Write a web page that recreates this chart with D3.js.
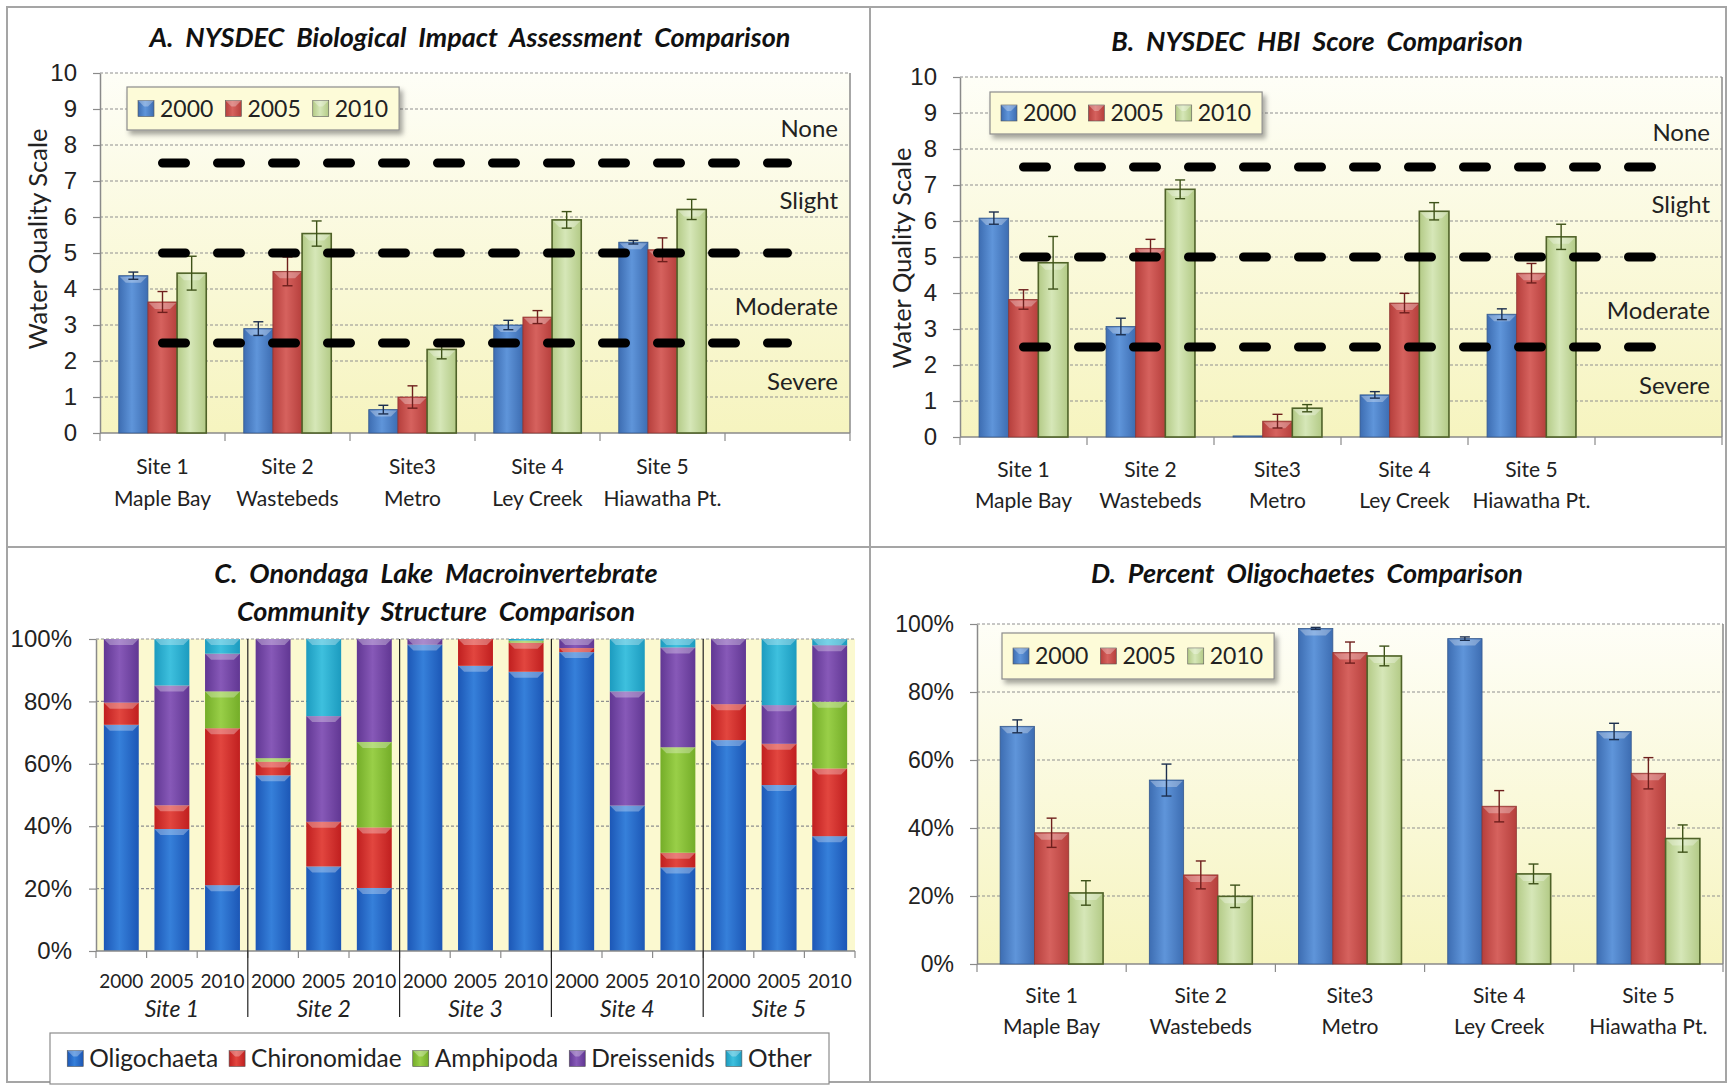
<!DOCTYPE html>
<html>
<head>
<meta charset="utf-8">
<script src="https://cdn.jsdelivr.net/npm/d3@7"></script>
<style>
  body { margin: 0; background: #fff; }
  svg { display: block; }
</style>
</head>
<body>
<script>
// ---- data ----
const sites = ["Site 1", "Site 2", "Site3", "Site 4", "Site 5"];
const siteNames = ["Maple Bay", "Wastebeds", "Metro", "Ley Creek", "Hiawatha Pt."];
const years = ["2000", "2005", "2010"];
const zones = ["None", "Slight", "Moderate", "Severe"];
const thresholds = [7.5, 5, 2.5];
const scaleTicks = [0, 1, 2, 3, 4, 5, 6, 7, 8, 9, 10];
const pctTicks = [0, 20, 40, 60, 80, 100];

// A. Biological Impact Assessment
const bia2000 = [4.37, 2.90, 0.65, 3.00, 5.30];
const bia2005 = [3.64, 4.49, 1.00, 3.22, 5.09];
const bia2010 = [4.44, 5.54, 2.32, 5.92, 6.21];
const biaErr2000 = [0.10, 0.19, 0.12, 0.13, 0.05];
const biaErr2005 = [0.29, 0.40, 0.31, 0.18, 0.33];
const biaErr2010 = [0.47, 0.35, 0.26, 0.23, 0.28];

// B. HBI score
const hbi2000 = [6.08, 3.07, 0.03, 1.17, 3.41];
const hbi2005 = [3.82, 5.24, 0.44, 3.72, 4.55];
const hbi2010 = [4.84, 6.88, 0.80, 6.27, 5.56];
const hbiErr2000 = [0.17, 0.23, 0.00, 0.09, 0.15];
const hbiErr2005 = [0.27, 0.25, 0.19, 0.27, 0.27];
const hbiErr2010 = [0.73, 0.26, 0.10, 0.24, 0.35];

// C. community structure (% of each bar, bars = site x year)
const siteGroups = ["Site 1", "Site 2", "Site 3", "Site 4", "Site 5"];
const taxa = ["Oligochaeta", "Chironomidae", "Amphipoda", "Dreissenids", "Other"];
const oligochaeta  = [72.5, 39.1, 21.1, 56.3, 27.1, 20.2, 98.2, 91.4, 89.5, 95.8, 46.6, 26.8, 67.6, 53.2, 36.8];
const chironomidae = [ 7.1,  7.6, 50.3,  4.4, 14.3, 19.4,  0.0,  8.6,  9.3,  1.3,  0.0,  4.7, 11.5, 13.2, 21.7];
const amphipoda    = [ 0.0,  0.0, 11.8,  1.1,  0.0, 27.4,  0.0,  0.0,  0.7,  0.0,  0.0, 33.8,  0.0,  0.0, 21.4];
const dreissenids  = [20.4, 38.4, 12.1, 38.2, 33.9, 33.0,  1.8,  0.0,  0.0,  2.9, 36.6, 32.0, 20.9, 12.4, 18.1];
const other        = [ 0.0, 14.9,  4.7,  0.0, 24.7,  0.0,  0.0,  0.0,  0.5,  0.0, 16.8,  2.7,  0.0, 21.2,  2.0];

// D. percent oligochaetes
const oli2000 = [69.9, 54.1, 98.7, 95.7, 68.4];
const oli2005 = [38.6, 26.2, 91.6, 46.4, 56.1];
const oli2010 = [20.9, 19.9, 90.6, 26.5, 36.9];
const oliErr2000 = [1.9, 4.7, 0.3, 0.5, 2.4];
const oliErr2005 = [4.3, 4.1, 3.1, 4.6, 4.6];
const oliErr2010 = [3.6, 3.3, 2.9, 2.9, 4.0];

// ---- drawing ----
const FONT = "Lato, 'Noto Sans', sans-serif";
const INK = "#222";
const AXIS = "#8a8a8a";

const svg = d3.select("body").append("svg")
    .attr("width", 1729)
    .attr("height", 1086)
    .style("font-family", FONT);

svg.append("rect").attr("width", 1729).attr("height", 1086).attr("fill", "#fff");

const defs = svg.append("defs");

function hGrad(id, edge, mid) {
  const gr = defs.append("linearGradient").attr("id", id)
      .attr("x1", "0%").attr("x2", "100%").attr("y1", "0%").attr("y2", "0%");
  gr.append("stop").attr("offset", "0%").attr("stop-color", edge);
  gr.append("stop").attr("offset", "45%").attr("stop-color", mid);
  gr.append("stop").attr("offset", "100%").attr("stop-color", edge);
}

// series colours for the grouped charts
const seriesFill = ["gBlue", "gRed", "gGreen"];
const seriesStroke = ["#35598e", "#8e3532", "#4f6228"];
const errColor = ["#1c2f4f", "#6e1f1d", "#3e5219"];
hGrad("gBlue", "#3d6db2", "#5f95da");
hGrad("gRed", "#b63f3c", "#d6625e");
hGrad("gGreen", "#b3ca86", "#d6e7b8");

// taxa colours
const taxaFill = ["tOli", "tChi", "tAmp", "tDre", "tOth"];
hGrad("tOli", "#1c57b6", "#3680da");
hGrad("tChi", "#c01f1f", "#e2463f");
hGrad("tAmp", "#74ad28", "#99cf48");
hGrad("tDre", "#613793", "#8759b8");
hGrad("tOth", "#1c9bbf", "#3ec0de");

const bg = defs.append("linearGradient").attr("id", "plotBg")
    .attr("x1", "0%").attr("x2", "0%").attr("y1", "0%").attr("y2", "100%");
bg.append("stop").attr("offset", "0%").attr("stop-color", "#fefef7");
bg.append("stop").attr("offset", "100%").attr("stop-color", "#f6f4bf");

const shadow = defs.append("filter").attr("id", "shadow")
    .attr("x", "-10%").attr("y", "-30%").attr("width", "130%").attr("height", "180%");
shadow.append("feDropShadow").attr("dx", 3).attr("dy", 4).attr("stdDeviation", 2.5)
    .attr("flood-color", "#000").attr("flood-opacity", 0.35);

// bevel highlight on top of a bar segment
function bevel(sel, x, y, w, hgt) {
  const d = Math.min(6, hgt);
  if (d < 2) return;
  sel.append("path")
      .attr("d", `M${x},${y}L${x + w},${y}L${x + w - d},${y + d}L${x + d},${y + d}Z`)
      .attr("fill", "#fff").attr("fill-opacity", 0.3);
}

function legend(parent, o) {
  const g = parent.append("g").attr("transform", `translate(${o.x},${o.y})`);
  const box = g.append("rect").attr("height", o.h)
      .attr("fill", o.fill).attr("stroke", "#8c8c8c").attr("stroke-width", 1.2);
  if (o.shadow) box.attr("filter", "url(#shadow)");
  const items = g.append("g");
  let cx = 0;
  o.names.forEach((name, i) => {
    items.append("rect")
        .attr("x", cx).attr("y", o.h / 2 - 8).attr("width", 16).attr("height", 16)
        .attr("fill", `url(#${o.fills[i]})`).attr("stroke", "#555").attr("stroke-width", 0.6);
    bevel(items, cx, o.h / 2 - 8, 16, 16);
    const t = items.append("text")
        .attr("x", cx + 16 + o.gap).attr("y", o.h / 2).attr("dy", "0.35em")
        .attr("font-size", o.fs).attr("fill", INK).text(name);
    cx += 16 + o.gap + t.node().getComputedTextLength() + o.sep;
  });
  const content = cx - o.sep;
  const width = o.w || content + 2 * o.pad;
  box.attr("width", width);
  items.attr("transform", `translate(${(width - content) / 2},0)`);
}

function groupedChart(o) {
  const g = svg.append("g").attr("transform", `translate(${o.left},${o.top})`);
  const w = o.width, h = o.height;

  const slots = o.blankSlot ? sites.concat([""]) : sites;
  const x0 = d3.scaleBand().domain(slots).range([0, w])
      .paddingInner(o.pad).paddingOuter(o.pad / 2);
  const x1 = d3.scaleBand().domain(years).range([0, x0.bandwidth()]);
  const y = d3.scaleLinear().domain(o.domain).range([h, 0]);

  g.append("rect").attr("width", w).attr("height", h).attr("fill", "url(#plotBg)");

  // dashed gridlines
  g.append("g").selectAll("line").data(o.ticks.slice(1)).join("line")
      .attr("x1", 0).attr("x2", w)
      .attr("y1", d => y(d)).attr("y2", d => y(d))
      .attr("stroke", "#8f8f8f").attr("stroke-width", 1.2).attr("stroke-dasharray", "3,2");

  // y axis
  const ya = g.append("g")
      .attr("font-family", FONT)
      .call(d3.axisLeft(y).tickValues(o.ticks).tickFormat(o.fmt)
          .tickSize(7).tickSizeOuter(0).tickPadding(16));
  ya.select(".domain").attr("stroke", AXIS).attr("stroke-width", 1.5);
  ya.selectAll(".tick line").attr("stroke", AXIS).attr("stroke-width", 1.2);
  ya.selectAll(".tick text").attr("font-size", o.tickFs).attr("fill", INK);

  // right edge and x axis with slot ticks
  g.append("line").attr("x1", w).attr("x2", w).attr("y1", 0).attr("y2", h)
      .attr("stroke", AXIS).attr("stroke-width", 1.5);
  g.append("line").attr("x1", 0).attr("x2", w).attr("y1", h).attr("y2", h)
      .attr("stroke", AXIS).attr("stroke-width", 1.5);
  g.append("g").selectAll("line").data(d3.range(slots.length + 1)).join("line")
      .attr("x1", i => i * x0.step()).attr("x2", i => i * x0.step())
      .attr("y1", h).attr("y2", h + 8)
      .attr("stroke", AXIS).attr("stroke-width", 1.2);

  // bars
  const rows = sites.map((s, i) => ({
    site: s,
    cells: years.map((yr, j) => ({ j, v: o.series[j][i], e: o.errors[j][i] }))
  }));

  const groups = g.append("g").selectAll("g").data(rows).join("g")
      .attr("transform", d => `translate(${x0(d.site)},0)`);

  groups.each(function (d) {
    const gg = d3.select(this);
    d.cells.forEach(c => {
      const bx = x1(years[c.j]), bw = x1.bandwidth();
      const by = y(c.v), bh = h - y(c.v);
      gg.append("rect")
          .attr("x", bx).attr("y", by).attr("width", bw).attr("height", bh)
          .attr("fill", `url(#${seriesFill[c.j]})`)
          .attr("stroke", seriesStroke[c.j]).attr("stroke-width", c.j === 2 ? 1.6 : 0.8);
      bevel(gg, bx + 1, by + 1, bw - 2, bh - 2);
    });
    d.cells.forEach(c => {
      if (c.e <= 0) return;
      const cx = x1(years[c.j]) + x1.bandwidth() / 2;
      const eb = gg.append("g").attr("stroke", errColor[c.j]).attr("stroke-width", 1.4);
      eb.append("line").attr("x1", cx).attr("x2", cx).attr("y1", y(c.v - c.e)).attr("y2", y(c.v + c.e));
      eb.append("line").attr("x1", cx - 5).attr("x2", cx + 5).attr("y1", y(c.v + c.e)).attr("y2", y(c.v + c.e));
      eb.append("line").attr("x1", cx - 5).attr("x2", cx + 5).attr("y1", y(c.v - c.e)).attr("y2", y(c.v - c.e));
    });
  });

  // category labels
  const lab = g.append("g").attr("font-size", o.catFs).attr("fill", INK).attr("text-anchor", "middle");
  sites.forEach((s, i) => {
    const cx = x0(s) + x0.bandwidth() / 2;
    lab.append("text").attr("x", cx).attr("y", h + o.lab1).text(s);
    lab.append("text").attr("x", cx).attr("y", h + o.lab2).text(siteNames[i]);
  });

  // impact thresholds and zone names
  if (o.zones) {
    const xa = x0(slots[0]) + x0.bandwidth() / 2;
    const xb = x0(slots[slots.length - 1]) + x0.bandwidth() / 2;
    g.append("g").selectAll("line").data(thresholds).join("line")
        .attr("x1", xa).attr("x2", xb)
        .attr("y1", d => y(d)).attr("y2", d => y(d))
        .attr("stroke", "#000").attr("stroke-width", 9)
        .attr("stroke-linecap", "round").attr("stroke-dasharray", "23,32");
    const zoneAt = [8.45, 6.45, 3.5, 1.42];
    g.append("g").attr("font-size", 24).attr("fill", INK).attr("text-anchor", "end")
      .selectAll("text").data(zones).join("text")
        .attr("x", w - 12).attr("y", (d, i) => y(zoneAt[i])).attr("dy", "0.35em")
        .text(d => d);
  }

  // y axis title
  if (o.yTitle) {
    svg.append("text")
        .attr("transform", `translate(${o.yTitle.x},${o.yTitle.y}) rotate(-90)`)
        .attr("text-anchor", "middle").attr("dy", "0.35em")
        .attr("font-size", 25.5).attr("fill", INK)
        .text("Water Quality Scale");
  }

  legend(g, Object.assign({ names: years, fills: seriesFill, fill: "#fdfbd8", shadow: true,
                            gap: 6, sep: 12, pad: 11, fs: 23 }, o.legend));
}

function title(lines, x, y0, step) {
  const t = svg.append("g").attr("font-size", 27).attr("font-weight", "bold")
      .attr("font-style", "italic").attr("fill", "#111").attr("text-anchor", "middle");
  lines.forEach((l, i) => t.append("text").attr("x", x).attr("y", y0 + i * step)
      .attr("xml:space", "preserve").text(l));
}

// panel frame
svg.append("rect").attr("x", 7).attr("y", 7).attr("width", 1719).attr("height", 1075)
    .attr("fill", "none").attr("stroke", "#a5a5a5").attr("stroke-width", 2);
svg.append("line").attr("x1", 870).attr("x2", 870).attr("y1", 7).attr("y2", 1082)
    .attr("stroke", "#a5a5a5").attr("stroke-width", 2);
svg.append("line").attr("x1", 7).attr("x2", 1726).attr("y1", 547).attr("y2", 547)
    .attr("stroke", "#a5a5a5").attr("stroke-width", 2);

// ---- A ----
title(["A.  NYSDEC  Biological  Impact  Assessment  Comparison"], 470, 47, 0);
groupedChart({
  left: 100, top: 73, width: 750, height: 360,
  blankSlot: true, pad: 0.3,
  domain: [0, 10], ticks: scaleTicks, fmt: d3.format("d"), tickFs: 24,
  series: [bia2000, bia2005, bia2010],
  errors: [biaErr2000, biaErr2005, biaErr2010],
  catFs: 21, lab1: 41, lab2: 73,
  zones: true,
  yTitle: { x: 38, y: 239 },
  legend: { x: 27, y: 14, h: 43 }
});

// ---- B ----
title(["B.  NYSDEC  HBI  Score  Comparison"], 1317, 51, 0);
groupedChart({
  left: 960, top: 77, width: 762, height: 360,
  blankSlot: true, pad: 0.3,
  domain: [0, 10], ticks: scaleTicks, fmt: d3.format("d"), tickFs: 24,
  series: [hbi2000, hbi2005, hbi2010],
  errors: [hbiErr2000, hbiErr2005, hbiErr2010],
  catFs: 21, lab1: 40, lab2: 71,
  zones: true,
  yTitle: { x: 902, y: 258 },
  legend: { x: 30, y: 15, h: 42 }
});

// ---- D ----
title(["D.  Percent  Oligochaetes  Comparison"], 1307, 583, 0);
groupedChart({
  left: 977, top: 624, width: 746, height: 340,
  blankSlot: false, pad: 0.31,
  domain: [0, 100], ticks: pctTicks, fmt: d => d + "%", tickFs: 23,
  series: [oli2000, oli2005, oli2010],
  errors: [oliErr2000, oliErr2005, oliErr2010],
  catFs: 21, lab1: 39, lab2: 70,
  zones: false,
  legend: { x: 25, y: 9, h: 46 }
});

// ---- C ----
title(["C.  Onondaga  Lake  Macroinvertebrate", "Community  Structure  Comparison"], 436, 583, 38);
(function () {
  const left = 96, top = 639, w = 759, h = 312;
  const g = svg.append("g").attr("transform", `translate(${left},${top})`);

  const taxaCols = [oligochaeta, chironomidae, amphipoda, dreissenids, other];
  const rows = [];
  siteGroups.forEach((s, si) => years.forEach((yr, yi) => {
    const i = si * years.length + yi;
    const r = { id: i, site: s, year: yr };
    taxa.forEach((t, k) => { r[t] = taxaCols[k][i]; });
    rows.push(r);
  }));

  const x = d3.scaleBand().domain(rows.map(r => r.id)).range([0, w])
      .paddingInner(0.31).paddingOuter(0.155);
  const y = d3.scaleLinear().domain([0, 100]).range([h, 0]);
  const series = d3.stack().keys(taxa)(rows);

  g.append("rect").attr("width", w).attr("height", h).attr("fill", "#fbf9d0");

  g.append("g").selectAll("line").data(pctTicks.slice(1)).join("line")
      .attr("x1", 0).attr("x2", w)
      .attr("y1", d => y(d)).attr("y2", d => y(d))
      .attr("stroke", "#8f8f8f").attr("stroke-width", 1.2).attr("stroke-dasharray", "3,2");

  const ya = g.append("g").attr("font-family", FONT)
      .call(d3.axisLeft(y).tickValues(pctTicks).tickFormat(d => d + "%")
          .tickSize(7).tickSizeOuter(0).tickPadding(17));
  ya.select(".domain").attr("stroke", AXIS).attr("stroke-width", 1.5);
  ya.selectAll(".tick line").attr("stroke", AXIS).attr("stroke-width", 1.2);
  ya.selectAll(".tick text").attr("font-size", 24).attr("fill", INK);

  series.forEach((s, k) => {
    s.forEach((seg, i) => {
      const top0 = y(seg[1]), hh = y(seg[0]) - y(seg[1]);
      if (hh <= 0) return;
      const bx = x(rows[i].id), bw = x.bandwidth();
      g.append("rect").attr("x", bx).attr("y", top0).attr("width", bw).attr("height", hh)
          .attr("fill", `url(#${taxaFill[k]})`);
      bevel(g, bx, top0, bw, hh);
    });
  });

  g.append("line").attr("x1", 0).attr("x2", w).attr("y1", h).attr("y2", h)
      .attr("stroke", AXIS).attr("stroke-width", 1.5);
  g.append("g").selectAll("line").data(d3.range(rows.length + 1)).join("line")
      .attr("x1", i => i * x.step()).attr("x2", i => i * x.step())
      .attr("y1", h).attr("y2", h + 7)
      .attr("stroke", AXIS).attr("stroke-width", 1.2);

  // site separators
  g.append("g").selectAll("line").data(d3.range(1, siteGroups.length)).join("line")
      .attr("x1", i => i * years.length * x.step()).attr("x2", i => i * years.length * x.step())
      .attr("y1", 0).attr("y2", h + 66)
      .attr("stroke", "#222").attr("stroke-width", 1.2);

  g.append("g").attr("font-size", 19).attr("fill", INK).attr("text-anchor", "middle")
    .selectAll("text").data(rows).join("text")
      .attr("x", r => x(r.id) + x.bandwidth() / 2).attr("y", h + 37)
      .text(r => r.year);

  g.append("g").attr("font-size", 23).attr("font-style", "italic").attr("fill", INK)
      .attr("text-anchor", "middle")
    .selectAll("text").data(siteGroups).join("text")
      .attr("x", (s, i) => (i * years.length + years.length / 2) * x.step()).attr("y", h + 66)
      .text(s => s);

  legend(svg, { x: 50, y: 1033, h: 51, w: 779, names: taxa, fills: taxaFill,
                fill: "#fff", shadow: false, gap: 6, sep: 11, pad: 10, fs: 24.5 });
})();
</script>
</body>
</html>
